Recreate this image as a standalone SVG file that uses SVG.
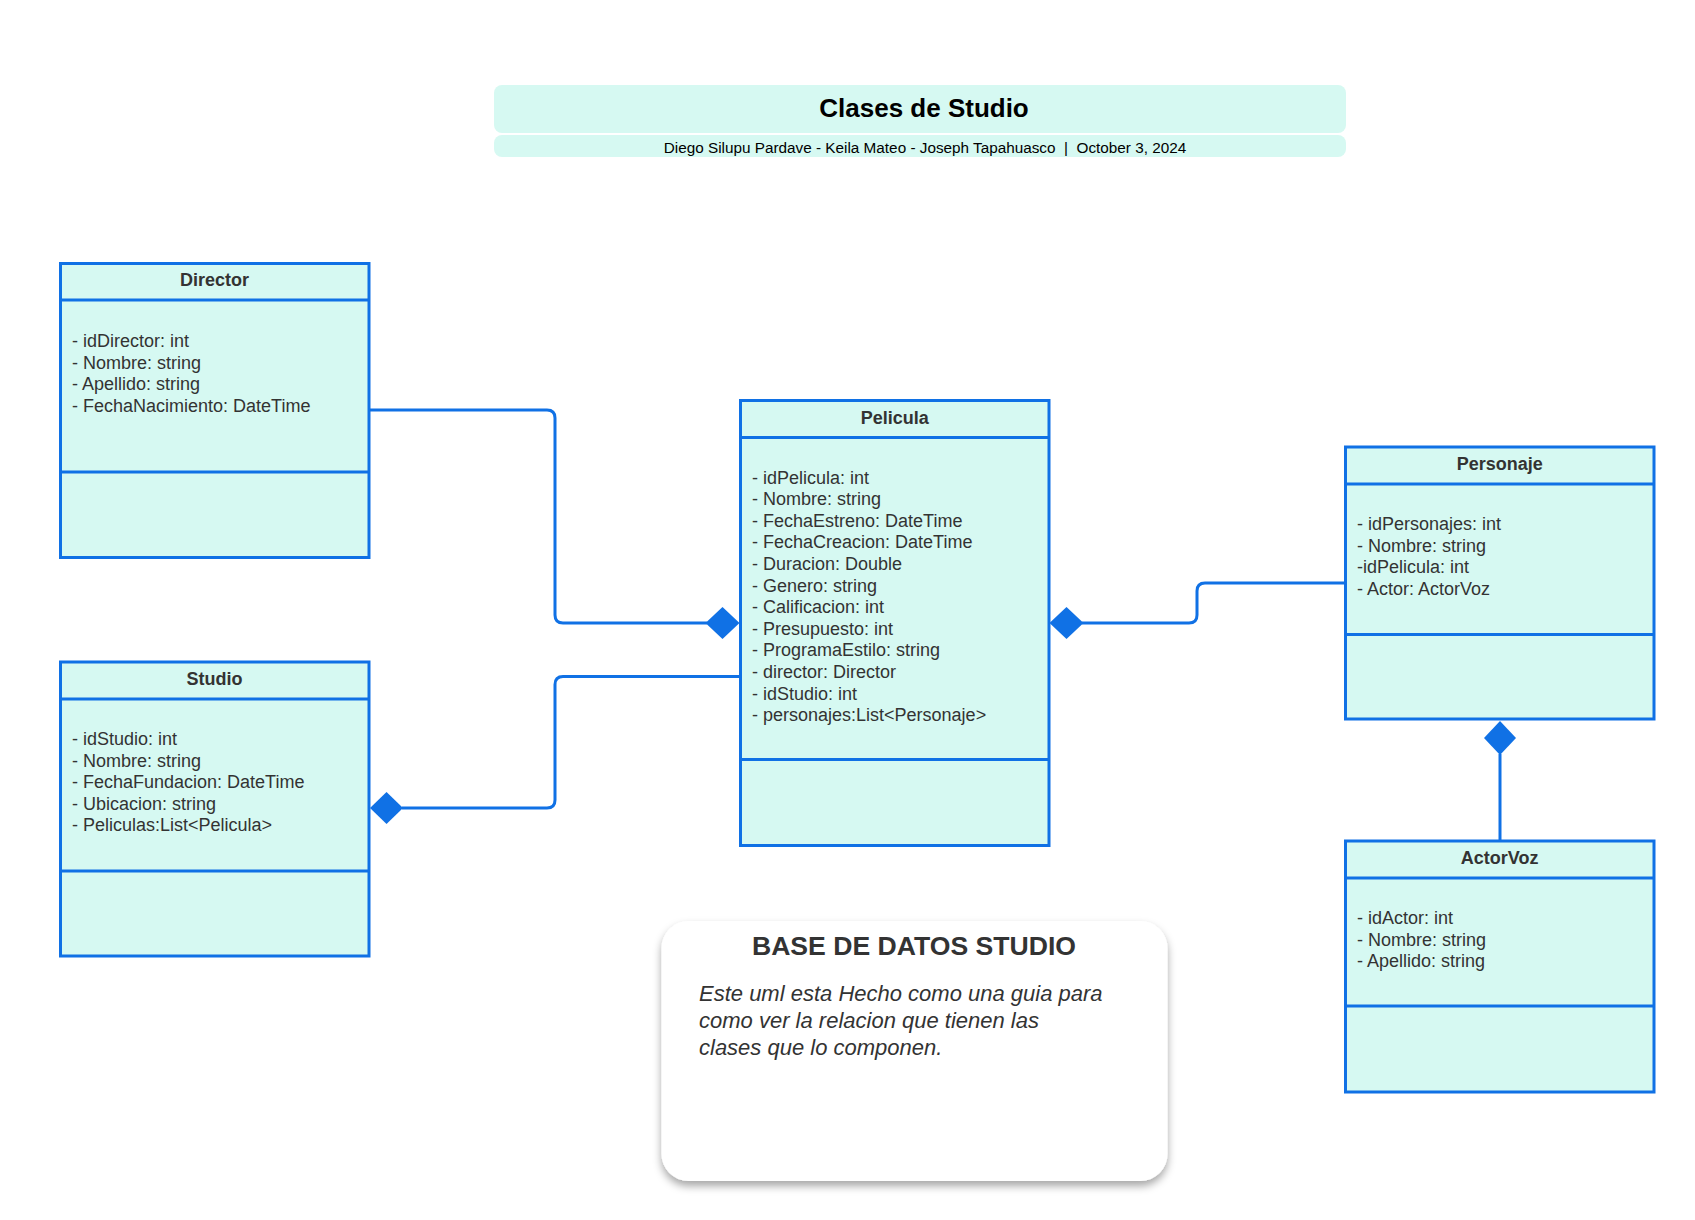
<svg xmlns="http://www.w3.org/2000/svg" width="1695" height="1220" viewBox="0 0 1695 1220">
<style>
.box{fill:#d6f9f2;stroke:#1071e5;stroke-width:3}
.sep{stroke:#1071e5;stroke-width:3}
.hdr{font-family:"Liberation Sans",Arial,sans-serif;font-size:18px;font-weight:bold;fill:#333;text-anchor:middle}
.att{font-family:"Liberation Sans",Arial,sans-serif;font-size:18px;fill:#333}
.con{fill:none;stroke:#1071e5;stroke-width:3}
.dia{fill:#1071e5}
</style>
<defs>
<filter id="sh" x="-10%" y="-10%" width="120%" height="130%">
<feDropShadow dx="0" dy="5" stdDeviation="4" flood-color="#000" flood-opacity="0.35"/>
</filter>
</defs>
<rect width="1695" height="1220" fill="#fff"/>
<g id="title">
<rect x="494" y="85" width="852" height="48" rx="8" fill="#d6f9f2"/>
<rect x="494" y="135" width="852" height="22" rx="8" fill="#d6f9f2"/>
<text x="924" y="117" font-family="'Liberation Sans',Arial,sans-serif" font-size="26" font-weight="bold" fill="#000" text-anchor="middle">Clases de Studio</text>
<text x="925" y="153" font-family="'Liberation Sans',Arial,sans-serif" font-size="15.3" fill="#000" text-anchor="middle" xml:space="preserve">Diego Silupu Pardave - Keila Mateo - Joseph Tapahuasco  |  October 3, 2024</text>
</g>
<g id="connectors">
<path class="con" d="M369,410 H547 Q555,410 555,418 V615 Q555,623 563,623 H707"/>
<polygon class="dia" points="705.5,623 722.5,607 739.5,623 722.5,639"/>
<path class="con" d="M740.5,676.5 H563 Q555,676.5 555,684.5 V800 Q555,808 547,808 H402"/>
<polygon class="dia" points="370,808 386.5,792 403,808 386.5,824"/>
<path class="con" d="M1082,623 H1189 Q1197,623 1197,615 V591 Q1197,583 1205,583 H1345.5"/>
<polygon class="dia" points="1049.5,623 1066.5,607 1083.5,623 1066.5,639"/>
<path class="con" d="M1500,754 V841"/>
<polygon class="dia" points="1500,721 1516,738 1500,755 1484,738"/>
</g>
<g id="director">
<rect class="box" x="60.5" y="263.5" width="308.5" height="294"/>
<line class="sep" x1="60.5" y1="300" x2="369" y2="300"/>
<line class="sep" x1="60.5" y1="472" x2="369" y2="472"/>
<text class="hdr" x="214.5" y="286">Director</text>
<text class="att" x="72" y="347">- idDirector: int</text>
<text class="att" x="72" y="368.6">- Nombre: string</text>
<text class="att" x="72" y="390.2">- Apellido: string</text>
<text class="att" x="72" y="411.8">- FechaNacimiento: DateTime</text>
</g>
<g id="studio">
<rect class="box" x="60.5" y="662" width="308.5" height="294"/>
<line class="sep" x1="60.5" y1="699" x2="369" y2="699"/>
<line class="sep" x1="60.5" y1="871" x2="369" y2="871"/>
<text class="hdr" x="214.5" y="685">Studio</text>
<text class="att" x="72" y="745">- idStudio: int</text>
<text class="att" x="72" y="766.6">- Nombre: string</text>
<text class="att" x="72" y="788.2">- FechaFundacion: DateTime</text>
<text class="att" x="72" y="809.8">- Ubicacion: string</text>
<text class="att" x="72" y="831.4">- Peliculas:List&lt;Pelicula&gt;</text>
</g>
<g id="pelicula">
<rect class="box" x="740.5" y="400.5" width="308.5" height="445"/>
<line class="sep" x1="740.5" y1="437.5" x2="1049" y2="437.5"/>
<line class="sep" x1="740.5" y1="759.5" x2="1049" y2="759.5"/>
<text class="hdr" x="894.7" y="423.5">Pelicula</text>
<text class="att" x="752" y="483.5">- idPelicula: int</text>
<text class="att" x="752" y="505.1">- Nombre: string</text>
<text class="att" x="752" y="526.7">- FechaEstreno: DateTime</text>
<text class="att" x="752" y="548.3">- FechaCreacion: DateTime</text>
<text class="att" x="752" y="569.9">- Duracion: Double</text>
<text class="att" x="752" y="591.5">- Genero: string</text>
<text class="att" x="752" y="613.1">- Calificacion: int</text>
<text class="att" x="752" y="634.7">- Presupuesto: int</text>
<text class="att" x="752" y="656.3">- ProgramaEstilo: string</text>
<text class="att" x="752" y="677.9">- director: Director</text>
<text class="att" x="752" y="699.5">- idStudio: int</text>
<text class="att" x="752" y="721.1">- personajes:List&lt;Personaje&gt;</text>
</g>
<g id="personaje">
<rect class="box" x="1345.5" y="447" width="308.5" height="272"/>
<line class="sep" x1="1345.5" y1="484" x2="1654" y2="484"/>
<line class="sep" x1="1345.5" y1="634.5" x2="1654" y2="634.5"/>
<text class="hdr" x="1499.7" y="470">Personaje</text>
<text class="att" x="1357" y="530">- idPersonajes: int</text>
<text class="att" x="1357" y="551.6">- Nombre: string</text>
<text class="att" x="1357" y="573.2">-idPelicula: int</text>
<text class="att" x="1357" y="594.8">- Actor: ActorVoz</text>
</g>
<g id="actorvoz">
<rect class="box" x="1345.5" y="841" width="308.5" height="251"/>
<line class="sep" x1="1345.5" y1="878" x2="1654" y2="878"/>
<line class="sep" x1="1345.5" y1="1006" x2="1654" y2="1006"/>
<text class="hdr" x="1499.7" y="864">ActorVoz</text>
<text class="att" x="1357" y="924">- idActor: int</text>
<text class="att" x="1357" y="945.6">- Nombre: string</text>
<text class="att" x="1357" y="967.2">- Apellido: string</text>
</g>
<g id="note">
<rect x="661.5" y="921" width="506" height="260" rx="27" fill="#fff" filter="url(#sh)"/>
<text x="914" y="955" font-family="'Liberation Sans',Arial,sans-serif" font-size="26.6" font-weight="bold" fill="#333" text-anchor="middle">BASE DE DATOS STUDIO</text>
<g font-family="'Liberation Sans',Arial,sans-serif" font-size="22" font-style="italic" fill="#333">
<text x="699" y="1001">Este uml esta Hecho como una guia para</text>
<text x="699" y="1028">como ver la relacion que tienen las</text>
<text x="699" y="1055">clases que lo componen.</text>
</g>
</g>
</svg>
